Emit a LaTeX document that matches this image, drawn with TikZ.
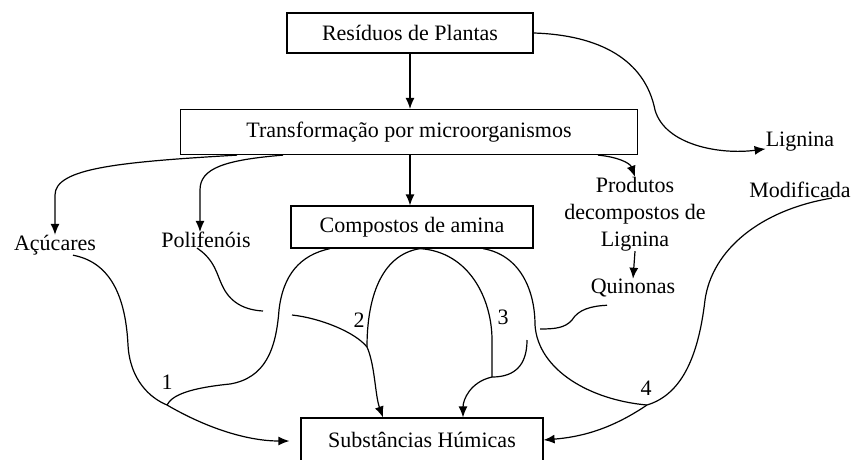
\documentclass[tikz,border=0pt]{standalone}
\usepackage{fontspec}
\setmainfont{Liberation Serif}
\usetikzlibrary{arrows.meta, positioning}

\begin{document}
\begin{tikzpicture}[x=1pt, y=-1pt, font=\fontsize{22}{27}\selectfont]
  \tikzstyle{stage}=[draw, line width=1.2pt, inner sep=0pt]
  \tikzstyle{product}=[inner sep=0pt, align=center]
  \tikzstyle{flow}=[line width=1.2pt, -{Latex[length=11pt, width=9pt]}]
  \tikzstyle{link}=[line width=1.2pt]

  \useasboundingbox (0,0) rectangle (853,459);

  \node (res) at (410,33) [stage, minimum width=246pt, minimum height=40pt] {Resíduos de Plantas};
  \node (trans) at (409,132) [stage, minimum width=457pt, minimum height=45pt] {Transformação por microorganismos};
  \node (amina) at (412,227) [stage, minimum width=242pt, minimum height=42pt] {Compostos de amina};
  \node (hum) at (422,440) [stage, minimum width=242pt, minimum height=44pt] {Substâncias Húmicas};

  \node (acu) at (55,245) [product] {Açúcares};
  \node (poli) at (206,240) [product] {Polifenóis};
  \node (prod) at (635,214) [product] {Produtos\\decompostos de\\Lignina};
  \node (quin) at (633,288) [product] {Quinonas};
  \node (lig) at (800,142) [product] {Lignina};
  \node (mod) at (800,190) [product] {Modificada};

  \node (n1) at (167,382) [product] {1};
  \node (n2) at (359,320) [product] {2};
  \node (n3) at (503,317) [product] {3};
  \node (n4) at (646,388) [product] {4};

  \coordinate (j1) at (167,405);
  \coordinate (j2) at (367,347);
  \coordinate (j3) at (492,377);
  \coordinate (j4) at (647,405);
  \coordinate (pa) at (263,311);
  \coordinate (pb) at (292,315);
  \coordinate (qa) at (540,329);
  \coordinate (qb) at (527,340);

  \draw[flow] (res.south) -- (res.south |- trans.north);
  \draw[flow] (res.south |- trans.south) -- (res.south |- amina.north);

  \draw[flow] ([xshift=-172pt]trans.south) .. controls (120,162) and (55,168) .. (55,195) -- ([xshift=0pt]acu.north);
  \draw[flow] ([xshift=-126pt]trans.south) .. controls (225,160) and (200,168) .. (200,190) -- ([xshift=-6pt]poli.north);
  \draw[flow] ([xshift=189pt]trans.south) .. controls (618,157) and (630,163) .. (prod.north);
  \draw[flow] (prod.south) -- (quin.north);
  \draw[flow] (res.east) .. controls (600,35) and (645,60) .. (655,110) .. controls (665,145) and (720,155) .. ([yshift=3pt]lig.south west);

  \draw[flow] ([xshift=18pt]acu.south) .. controls (115,263) and (126,305) .. (128,345) .. controls (130,380) and (150,398) .. (j1) .. controls (210,430) and (250,441) .. ([xshift=-11pt,yshift=-1pt]hum.west);
  \draw[link] ([xshift=-82pt]amina.south) .. controls (300,255) and (283,275) .. (279,310) .. controls (276,350) and (265,378) .. (230,384) .. controls (190,388) and (172,395) .. (j1);

  \draw[link] ([xshift=-9pt]poli.south) .. controls (215,260) and (217,275) .. (222,285) .. controls (230,303) and (245,310) .. (pa);
  \draw[flow] (pb) .. controls (320,318) and (355,332) .. (j2) .. controls (375,365) and (375,395) .. ([xshift=-39pt]hum.north);
  \draw[link] ([xshift=8pt]amina.south) .. controls (380,255) and (367,300) .. (j2);

  \draw[link] ([xshift=8pt]amina.south) .. controls (470,252) and (492,300) .. (492,340) -- (j3);
  \draw[link] ([xshift=-26pt,yshift=-8pt]quin.south) .. controls (590,306) and (578,310) .. (572,320) .. controls (565,328) and (555,329) .. (qa);
  \draw[flow] (qb) .. controls (527,365) and (515,377) .. (j3) .. controls (470,382) and (463,400) .. ([xshift=41pt]hum.north);

  \draw[link] ([xshift=71pt]amina.south) .. controls (520,255) and (535,290) .. (535,325) .. controls (538,370) and (590,400) .. (j4);
  \draw[flow] ([xshift=-19pt]mod.south east) .. controls (760,210) and (712,250) .. (705,300) .. controls (698,360) and (680,395) .. (j4) .. controls (610,430) and (580,437) .. (hum.east);
\end{tikzpicture}
\end{document}
